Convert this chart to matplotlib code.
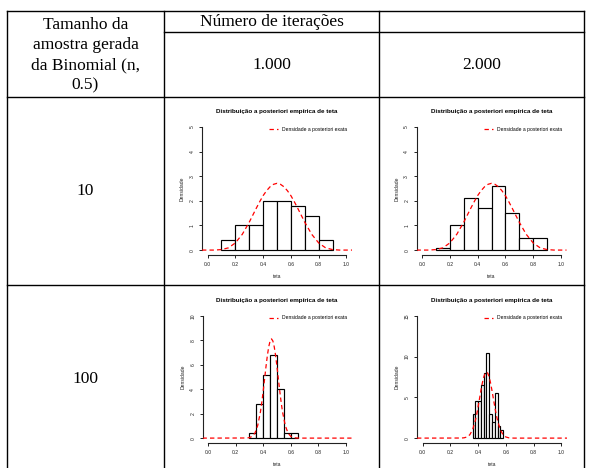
import matplotlib
matplotlib.use("Agg")
import matplotlib.pyplot as plt
import numpy as np

# ---------------- data ----------------
row_labels = ["10", "100"]
col_labels = ["1.000", "2.000"]
header_first = "Tamanho da\namostra gerada\nda Binomial (n,\n0.5)"
header_iter = "Número de iterações"

title_txt = "Distribuição a posteriori empírica de teta"
legend_txt = "Densidade a posteriori exata"
ylabel_txt = "Densidade"
xlabel_txt = "teta"
xticks = [0.0, 0.2, 0.4, 0.6, 0.8, 1.0]

# n = 10, 1000 iterations
edges_10_1000 = [0.1, 0.2, 0.3, 0.4, 0.5, 0.6, 0.7, 0.8, 0.9]
dens_10_1000 = [0.4, 1.0, 1.0, 2.0, 2.0, 1.8, 1.4, 0.4]
# n = 10, 2000 iterations
edges_10_2000 = [0.1, 0.2, 0.3, 0.4, 0.5, 0.6, 0.7, 0.8, 0.9]
dens_10_2000 = [0.1, 1.0, 2.1, 1.7, 2.6, 1.5, 0.5, 0.5]
# n = 100, 1000 iterations
edges_100_1000 = [0.30, 0.35, 0.40, 0.45, 0.50, 0.55, 0.60, 0.65]
dens_100_1000 = [0.4, 2.8, 5.2, 6.8, 4.0, 0.4, 0.4]
# n = 100, 2000 iterations
edges_100_2000 = [0.36, 0.38, 0.40, 0.42, 0.44, 0.46, 0.48, 0.50, 0.52, 0.54, 0.56, 0.58]
dens_100_2000 = [3.0, 4.5, 4.5, 6.5, 8.0, 10.5, 3.0, 2.0, 5.5, 1.5, 1.0]

# exact posterior density
curve_x_10 = [-0.04, 0.0, 0.05, 0.10, 0.15, 0.20, 0.25, 0.30, 0.325, 0.35, 0.375, 0.40,
              0.425, 0.45, 0.475, 0.50, 0.525, 0.55, 0.575, 0.60, 0.625, 0.65, 0.675,
              0.70, 0.75, 0.80, 0.85, 0.90, 0.95, 1.0, 1.04]
curve_y_10 = [0.0, 0.0, 0.0, 0.02, 0.09, 0.29, 0.64, 1.13, 1.41, 1.69, 1.96, 2.21,
              2.41, 2.57, 2.67, 2.71, 2.67, 2.57, 2.41, 2.21, 1.96, 1.69, 1.41,
              1.13, 0.64, 0.29, 0.09, 0.02, 0.0, 0.0, 0.0]
curve_x_100 = [-0.04, 0.0, 0.28, 0.30, 0.32, 0.34, 0.36, 0.38, 0.39, 0.40, 0.41, 0.42,
               0.43, 0.44, 0.45, 0.46, 0.47, 0.48, 0.49, 0.50, 0.51, 0.52, 0.53,
               0.54, 0.56, 0.58, 0.60, 0.62, 0.64, 0.66, 1.0, 1.04]
curve_y_100 = [0.0, 0.0, 0.01, 0.04, 0.14, 0.41, 1.02, 2.15, 2.94, 3.85, 4.83, 5.83,
               6.74, 7.47, 7.95, 8.12, 7.95, 7.47, 6.74, 5.83, 4.83, 3.85, 2.94,
               2.15, 1.02, 0.41, 0.14, 0.04, 0.01, 0.0, 0.0, 0.0]

yticks_10 = [0, 1, 2, 3, 4, 5]
yticks_100_1000 = [0, 2, 4, 6, 8, 10]
yticks_100_2000 = [0, 5, 10, 15]

# ---------------- layout ----------------
W, H = 589, 468
fig = plt.figure(figsize=(W / 100, H / 100), dpi=100)
fig.patch.set_facecolor("white")

bg = fig.add_axes([0, 0, 1, 1], zorder=0)
bg.set_xlim(0, W)
bg.set_ylim(H, 0)
bg.axis("off")

lw_tab = 1.0
xl, xc1, xc2, xr = 7, 164, 379, 584
segs = [
    ([xl, xr], [11, 11]),
    ([xc1, xr], [32, 32]),
    ([xl, xr], [97, 97]),
    ([xl, xr], [285, 285]),
    ([xl, xl], [11, H + 5]),
    ([xc1, xc1], [11, H + 5]),
    ([xc2, xc2], [11, H + 5]),
    ([xr, xr], [11, H + 5]),
]
for xs, ys in segs:
    bg.plot(xs, ys, color="black", lw=lw_tab, solid_capstyle="projecting")

serif = "Liberation Serif"
fs_tab = 12.5
bg.text((xl + xc1) / 2, 55, header_first, ha="center", va="center",
        fontsize=fs_tab, family=serif, linespacing=1.36)
bg.text((xc1 + xc2) / 2, 22, header_iter, ha="center", va="center",
        fontsize=fs_tab, family=serif)
bg.text((xc1 + xc2) / 2, 65, col_labels[0], ha="center", va="center",
        fontsize=fs_tab, family=serif)
bg.text((xc2 + xr) / 2, 65, col_labels[1], ha="center", va="center",
        fontsize=fs_tab, family=serif)
bg.text((xl + xc1) / 2, 191, row_labels[0], ha="center", va="center",
        fontsize=fs_tab, family=serif)
bg.text((xl + xc1) / 2, 379, row_labels[1], ha="center", va="center",
        fontsize=fs_tab, family=serif)

sans = "Liberation Sans"
fs_small = 3.6


def px_rect(x0, y0, x1, y1):
    return [x0 / W, 1 - y1 / H, (x1 - x0) / W, (y1 - y0) / H]


def panel(rect, edges, dens, cx, cy, yticks, show_xlabel=True):
    ax = fig.add_axes(px_rect(*rect), zorder=2)
    ax.patch.set_alpha(0)
    ymax = yticks[-1]
    ax.set_xlim(-0.04, 1.04)
    ax.set_ylim(-0.04 * ymax, 1.04 * ymax)
    e = np.asarray(edges)
    ax.bar(e[:-1], dens, width=np.diff(e), align="edge", color="white",
           edgecolor="black", linewidth=0.85, zorder=2)
    ax.plot(cx, cy, color="red", lw=0.9, linestyle=(0, (3.5, 2.5)), zorder=3,
            label=legend_txt)
    for s in ["top", "right"]:
        ax.spines[s].set_visible(False)
    ax.spines["left"].set_bounds(0, ymax)
    ax.spines["bottom"].set_bounds(0, 1)
    for s in ["left", "bottom"]:
        ax.spines[s].set_linewidth(0.8)
        ax.spines[s].set_color("#222222")
    ax.set_xticks(xticks)
    ax.set_xticklabels([f"{v:.1f}" for v in xticks])
    ax.set_yticks(yticks)
    ax.set_yticklabels([str(v) for v in yticks])
    ax.tick_params(axis="both", direction="out", length=2.2, width=0.7,
                   labelsize=fs_small, pad=3, colors="#222222")
    for t in ax.get_yticklabels():
        t.set_rotation(90)
        t.set_va("center")
        t.set_family(sans)
    for t in ax.get_xticklabels():
        t.set_family(sans)
    ax.set_title(title_txt, fontsize=4.5, fontweight="bold", family=sans, pad=6.2)
    ax.text(-0.13, 0.5, ylabel_txt, rotation=90, ha="center", va="center",
            fontsize=fs_small, family=sans, transform=ax.transAxes, color="#222222")
    if show_xlabel:
        ax.text(0.5, -0.165, xlabel_txt, ha="center", va="center",
                fontsize=fs_small, family=sans, transform=ax.transAxes, color="#222222")
    ax.legend(loc="upper right", frameon=False,
              handlelength=1.8, handletextpad=0.8, borderaxespad=0.5,
              prop={"family": sans, "size": fs_small})
    return ax


panel((202, 122, 352, 255), edges_10_1000, dens_10_1000, curve_x_10, curve_y_10, yticks_10)
panel((416.5, 122, 566.5, 255), edges_10_2000, dens_10_2000, curve_x_10, curve_y_10, yticks_10)
panel((202.5, 311, 351.5, 443), edges_100_1000, dens_100_1000, curve_x_100, curve_y_100, yticks_100_1000)
panel((417, 311, 567, 443), edges_100_2000, dens_100_2000, curve_x_100, curve_y_100, yticks_100_2000)

fig.savefig("out.png", dpi=100)
